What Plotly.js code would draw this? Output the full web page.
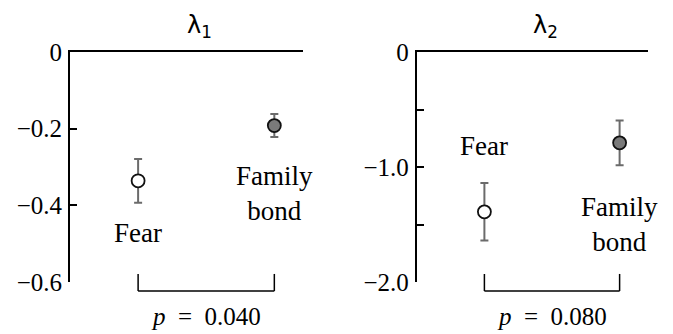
<!DOCTYPE html>
<html>
<head>
<meta charset="utf-8">
<script src="https://cdn.plot.ly/plotly-3.0.1.min.js"></script>
<style>
  body { margin: 0; background: #fff; }
  #chart { width: 673px; height: 334px; }
</style>
</head>
<body>
<div id="chart"></div>
<script>
// categories sit at x = 1 (Fear) and x = 2 (Family bond)
var groups = ["Fear", "Family bond"];
var groupX = [1, 2];

// lambda 1 panel
var lam1Mean = [-0.336, -0.192];
var lam1Err = [0.057, 0.030];
var lam1Ticks = [0, -0.2, -0.4, -0.6];
var lam1TickText = ["0", "\u22120.2", "\u22120.4", "\u22120.6"];
var lam1P = "0.040";

// lambda 2 panel
var lam2Mean = [-1.39, -0.79];
var lam2Err = [0.25, 0.195];
var lam2Ticks = [0, -0.5, -1.0, -1.5, -2.0];
var lam2TickText = ["0", "", "\u22121.0", "", "\u22122.0"];
var lam2P = "0.080";

var serif = "'Liberation Serif', 'DejaVu Serif', serif";
var fillColors = ["#ffffff", "#7a7a7a"];

function pointTrace(means, errs, xa, ya) {
    return {
        x: groupX,
        y: means,
        xaxis: xa,
        yaxis: ya,
        type: "scatter",
        mode: "markers",
        showlegend: false,
        marker: {size: 13, color: fillColors, line: {color: "#111", width: 1.8}},
        error_y: {type: "data", array: errs, visible: true, color: "#6b6b6b", thickness: 2, width: 4}
    };
}

var traces = [
    pointTrace(lam1Mean, lam1Err, "x", "y"),
    pointTrace(lam2Mean, lam2Err, "x2", "y2")
];

function yAxis(ticks, text) {
    return {
        range: [ticks[ticks.length - 1], 0],
        tickvals: ticks,
        ticktext: text,
        ticks: "inside",
        ticklen: 7,
        tickwidth: 2,
        tickcolor: "#000",
        ticklabelstandoff: 1,
        showline: true,
        linecolor: "#000",
        linewidth: 2,
        showgrid: false,
        zeroline: false,
        tickfont: {family: serif, size: 25, color: "#000"},
        fixedrange: true
    };
}

function xAxis(domain) {
    return {
        domain: domain,
        range: [0.5, 2.21],
        side: "top",
        showline: true,
        linecolor: "#000",
        linewidth: 2,
        showticklabels: false,
        ticks: "",
        showgrid: false,
        zeroline: false,
        fixedrange: true
    };
}

// group labels, bracket and p value per panel
var annotations = [];
var shapes = [];

function panelExtras(xa, ya, title, pText, fearY, bondY) {
    annotations.push({xref: xa, yref: "paper", x: 1.45, y: 1.0, yanchor: "bottom", yshift: 8, text: title,
        showarrow: false, font: {family: "'DejaVu Sans', sans-serif", size: 24, color: "#000"}});
    annotations.push({xref: xa, yref: ya, x: groupX[0], y: fearY, text: groups[0],
        showarrow: false, font: {family: serif, size: 27, color: "#000"}});
    annotations.push({xref: xa, yref: ya, x: groupX[1], y: bondY, text: "Family<br>bond",
        showarrow: false, font: {family: serif, size: 27, color: "#000"}});
    annotations.push({xref: xa, yref: "paper", x: (groupX[0] + groupX[1]) / 2, y: -0.148, yanchor: "middle",
        text: "<i>p</i>\u00a0\u00a0=\u00a0\u00a0" + pText, showarrow: false,
        font: {family: serif, size: 25, color: "#000"}});
    var line = {color: "#000", width: 1.5};
    shapes.push({type: "line", xref: xa, yref: "paper", x0: groupX[0], x1: groupX[0], y0: 0.035, y1: -0.039, line: line});
    shapes.push({type: "line", xref: xa, yref: "paper", x0: groupX[1], x1: groupX[1], y0: 0.035, y1: -0.039, line: line});
    shapes.push({type: "line", xref: xa, yref: "paper", x0: groupX[0], x1: groupX[1], y0: -0.039, y1: -0.039, line: line});
}

panelExtras("x", "y", "\u03bb<sub>1</sub>", lam1P, -0.473, -0.369);
panelExtras("x2", "y2", "\u03bb<sub>2</sub>", lam2P, -0.815, -1.496);

var layout = {
    width: 673,
    height: 334,
    margin: {l: 70, r: 25, t: 52, b: 52},
    paper_bgcolor: "#fff",
    plot_bgcolor: "#fff",
    showlegend: false,
    xaxis: xAxis([0, 0.403]),
    xaxis2: xAxis([0.600, 1]),
    yaxis: yAxis(lam1Ticks, lam1TickText),
    yaxis2: Object.assign(yAxis(lam2Ticks, lam2TickText), {anchor: "x2"}),
    annotations: annotations,
    shapes: shapes
};
layout.xaxis.anchor = "y";
layout.xaxis2.anchor = "y2";

Plotly.newPlot("chart", traces, layout, {displayModeBar: false, staticPlot: true});
</script>
</body>
</html>
